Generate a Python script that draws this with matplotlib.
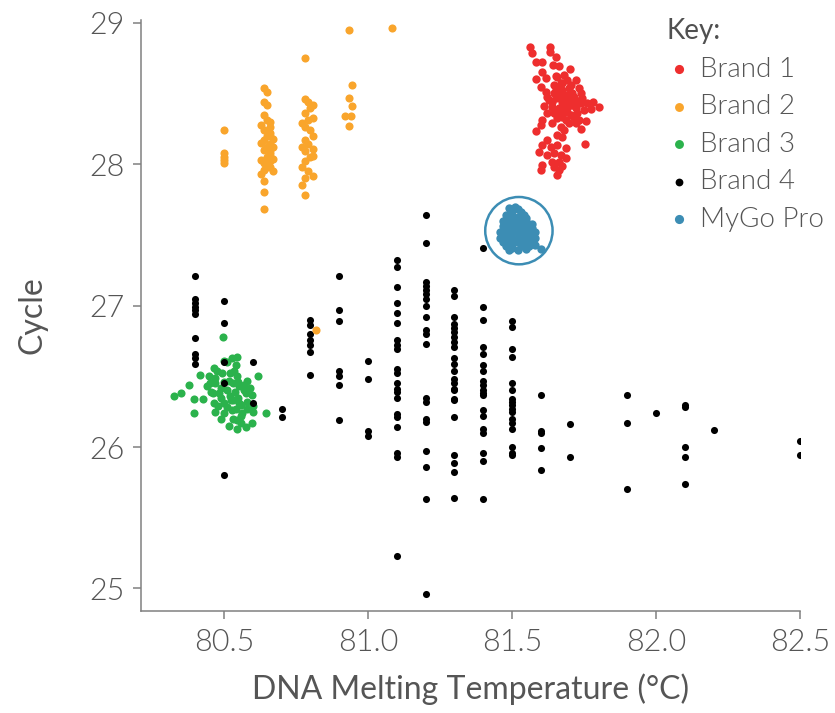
import matplotlib
matplotlib.use("Agg")
import matplotlib.pyplot as plt

plt.rcParams['font.family'] = ['Lato', 'DejaVu Sans']
plt.rcParams['font.weight'] = 300

# ---- data ----
# Brand 1 (red)
b1_x = [81.562, 81.570, 81.632, 81.632, 81.582, 81.605, 81.652, 81.642, 81.663, 81.700,
        81.603, 81.582, 81.617, 81.657, 81.681, 81.600, 81.617, 81.646, 81.675, 81.692,
        81.704, 81.733, 81.738, 81.663, 81.686, 81.715, 81.652, 81.675, 81.704, 81.738,
        81.762, 81.782, 81.802, 81.773, 81.750, 81.721, 81.692, 81.663, 81.640, 81.611,
        81.623, 81.646, 81.675, 81.704, 81.733, 81.756, 81.721, 81.738, 81.605, 81.600,
        81.640, 81.669, 81.681, 81.582, 81.657, 81.675, 81.623, 81.605, 81.634, 81.657,
        81.686, 81.754, 81.594, 81.623, 81.646, 81.669, 81.640, 81.663, 81.686, 81.605,
        81.600, 81.646, 81.663, 81.657, 81.675, 81.652, 81.629, 81.710, 81.698, 81.727,
        81.652, 81.675, 81.698, 81.663, 81.686, 81.710, 81.669, 81.692, 81.715, 81.686,
        81.657, 81.646, 81.681, 81.727, 81.698, 81.744, 81.640, 81.623, 81.669, 81.721]
b1_y = [28.828, 28.785, 28.828, 28.790, 28.721, 28.726, 28.757, 28.703, 28.691, 28.672,
        28.655, 28.601, 28.608, 28.620, 28.632, 28.549, 28.514, 28.561, 28.573, 28.596,
        28.561, 28.537, 28.502, 28.514, 28.490, 28.478, 28.467, 28.443, 28.443, 28.431,
        28.431, 28.443, 28.401, 28.389, 28.384, 28.396, 28.396, 28.396, 28.408, 28.412,
        28.360, 28.360, 28.337, 28.349, 28.313, 28.309, 28.290, 28.247, 28.313, 28.278,
        28.290, 28.266, 28.242, 28.235, 28.207, 28.195, 28.172, 28.136, 28.124, 28.136,
        28.113, 28.141, 28.089, 28.065, 28.077, 28.065, 28.018, 28.018, 28.042, 27.995,
        27.959, 27.983, 27.959, 27.924, 27.988, 28.625, 28.455, 28.502, 28.290, 28.360,
        28.537, 28.526, 28.537, 28.478, 28.455, 28.419, 28.372, 28.372, 28.337, 28.313,
        28.325, 28.502, 28.412, 28.450, 28.478, 28.467, 28.443, 28.478, 28.573, 28.596]

# Brand 2 (orange)
b2_x = [80.50, 80.50, 80.50, 80.50, 80.50,
        80.64, 80.65, 80.64, 80.65, 80.64, 80.65, 80.63, 80.64, 80.66, 80.65, 80.64, 80.63,
        80.65, 80.64, 80.66, 80.65, 80.63, 80.64, 80.65, 80.64, 80.63, 80.64, 80.64, 80.64,
        80.66, 80.66, 80.66, 80.66, 80.66, 80.66, 80.66, 80.66, 80.67, 80.67, 80.67, 80.67,
        80.78, 80.78, 80.79, 80.80, 80.78, 80.79, 80.77, 80.78, 80.80, 80.78, 80.79, 80.77,
        80.78, 80.80, 80.78, 80.77, 80.79, 80.78, 80.77, 80.78,
        80.81, 80.81, 80.81, 80.81, 80.81, 80.81,
        80.934, 80.945, 80.934, 80.945, 80.92, 80.94, 80.934,
        81.084, 80.82]
b2_y = [28.24, 28.08, 28.05, 28.03, 28.01,
        28.54, 28.51, 28.44, 28.42, 28.35, 28.31, 28.28, 28.24, 28.22, 28.20, 28.17, 28.15,
        28.12, 28.10, 28.08, 28.05, 28.03, 28.01, 27.98, 27.96, 27.93, 27.88, 27.80, 27.68,
        28.30, 28.26, 28.20, 28.14, 28.10, 28.06, 28.02, 27.98, 28.18, 28.12, 28.04, 27.95,
        28.75, 28.46, 28.44, 28.40, 28.36, 28.31, 28.29, 28.26, 28.24, 28.17, 28.14, 28.12,
        28.09, 28.05, 28.02, 27.98, 27.95, 27.90, 27.85, 27.78,
        28.42, 28.33, 28.20, 28.11, 28.06, 27.92,
        28.95, 28.56, 28.47, 28.41, 28.34, 28.34, 28.27,
        28.96, 26.83]

# Brand 3 (green)
b3_x = [80.326, 80.350, 80.378, 80.397, 80.397, 80.417, 80.427, 80.448, 80.454, 80.465,
        80.465, 80.469, 80.477, 80.483, 80.497, 80.500, 80.494, 80.500, 80.500, 80.517,
        80.517, 80.523, 80.529, 80.529, 80.535, 80.538, 80.546, 80.546, 80.546, 80.546,
        80.552, 80.552, 80.564, 80.569, 80.575, 80.575, 80.581, 80.596, 80.596, 80.617,
        80.647, 80.47, 80.49, 80.51, 80.53, 80.55, 80.56, 80.51, 80.49, 80.53,
        80.56, 80.58, 80.47, 80.45, 80.52, 80.54, 80.58, 80.60, 80.49, 80.54,
        80.57, 80.50, 80.46, 80.44, 80.52, 80.55, 80.48, 80.59, 80.53, 80.56,
        80.51, 80.60]
b3_y = [26.36, 26.38, 26.44, 26.34, 26.24, 26.51, 26.34, 26.50, 26.39, 26.56,
        26.31, 26.25, 26.54, 26.38, 26.78, 26.61, 26.52, 26.31, 26.24, 26.15,
        26.47, 26.33, 26.63, 26.26, 26.54, 26.39, 26.64, 26.50, 26.19, 26.13,
        26.43, 26.31, 26.24, 26.44, 26.38, 26.14, 26.27, 26.37, 26.17, 26.50,
        26.24, 26.45, 26.42, 26.40, 26.45, 26.35, 26.30, 26.28, 26.35, 26.20,
        26.22, 26.32, 26.49, 26.45, 26.52, 26.58, 26.47, 26.29, 26.20, 26.27,
        26.40, 26.46, 26.38, 26.43, 26.36, 26.46, 26.29, 26.42, 26.33, 26.17,
        26.60, 26.25]

# Brand 4 (black), one list of cycles per melting temperature column
b4_cols = {
    80.4: [27.21, 27.05, 27.02, 26.99, 26.97, 26.94, 26.77, 26.66, 26.63, 26.59],
    80.5: [27.03, 26.88, 26.60, 26.45, 25.80],
    80.6: [26.60, 26.31],
    80.7: [26.27, 26.21],
    80.8: [26.90, 26.86, 26.80, 26.76, 26.72, 26.67, 26.51],
    80.9: [27.21, 26.97, 26.89, 26.54, 26.50, 26.44, 26.19],
    81.0: [26.61, 26.48, 26.11, 26.08],
    81.1: [27.32, 27.27, 27.13, 27.02, 26.95, 26.88, 26.76, 26.72, 26.69, 26.55, 26.52,
           26.45, 26.41, 26.39, 26.35, 26.23, 26.21, 26.14, 25.96, 25.93, 25.23],
    81.2: [27.64, 27.44, 27.17, 27.14, 27.11, 27.08, 27.05, 27.00, 26.92, 26.83, 26.80,
           26.73, 26.35, 26.32, 26.20, 26.18, 25.97, 25.86, 25.63, 24.96],
    81.3: [27.11, 27.07, 26.92, 26.87, 26.84, 26.81, 26.78, 26.74, 26.71, 26.63, 26.59,
           26.54, 26.48, 26.45, 26.41, 26.40, 26.34, 26.33, 26.21, 25.94, 25.89, 25.82,
           25.64],
    81.4: [27.41, 26.99, 26.90, 26.71, 26.66, 26.58, 26.54, 26.47, 26.44, 26.40, 26.38,
           26.37, 26.26, 26.22, 26.13, 26.10, 25.96, 25.90, 25.63],
    81.5: [26.89, 26.85, 26.69, 26.64, 26.45, 26.40, 26.34, 26.32, 26.30, 26.27, 26.25,
           26.20, 26.17, 26.13, 26.00, 25.96, 25.94],
    81.6: [26.37, 26.11, 26.10, 25.99, 25.84],
    81.7: [26.16, 25.93],
    81.9: [26.37, 26.17, 25.70],
    82.0: [26.24],
    82.1: [26.30, 26.28, 26.00, 25.93, 25.74],
    82.2: [26.12],
    82.5: [26.04, 25.94],
}
b4_x = []
b4_y = []
for t, cyc in b4_cols.items():
    for c in cyc:
        b4_x.append(t)
        b4_y.append(c)

# MyGo Pro (blue)
mg_x = [81.49, 81.51, 81.50, 81.52, 81.53,
        81.48, 81.50, 81.52, 81.54, 81.55,
        81.47, 81.49, 81.51, 81.53, 81.55, 81.57,
        81.47, 81.49, 81.51, 81.53, 81.55, 81.57, 81.48,
        81.46, 81.50, 81.52, 81.54, 81.56, 81.58,
        81.46, 81.48, 81.50, 81.52, 81.54, 81.56, 81.58,
        81.47, 81.49, 81.51, 81.53, 81.55, 81.57,
        81.48, 81.50, 81.53, 81.56, 81.58,
        81.49, 81.52, 81.55, 81.60]
mg_y = [27.69, 27.70, 27.67, 27.68, 27.66,
        27.64, 27.64, 27.63, 27.64, 27.62,
        27.60, 27.61, 27.60, 27.59, 27.60, 27.58,
        27.56, 27.57, 27.56, 27.55, 27.56, 27.55, 27.53,
        27.52, 27.52, 27.51, 27.52, 27.51, 27.52,
        27.48, 27.49, 27.48, 27.47, 27.48, 27.47, 27.48,
        27.45, 27.44, 27.45, 27.44, 27.45, 27.44,
        27.42, 27.41, 27.42, 27.42, 27.43,
        27.39, 27.39, 27.40, 27.40]
mg_center = (81.524, 27.53)

x_ticks = [80.5, 81.0, 81.5, 82.0, 82.5]
y_ticks = [25, 26, 27, 28, 29]

c_red = '#EE2E2E'
c_orange = '#F9A52C'
c_green = '#2BB24C'
c_black = '#000000'
c_blue = '#3C8DB4'
txt = '#555555'
axc = '#808080'

fig = plt.figure(figsize=(8.35, 7.13), dpi=100)
ax = fig.add_axes([0.169, 0.143, 0.789, 0.829])

h3 = ax.scatter(b3_x, b3_y, s=34, c=c_green, linewidths=0, zorder=2)
h4 = ax.scatter(b4_x, b4_y, s=26, c=c_black, linewidths=0, zorder=3)
h2 = ax.scatter(b2_x, b2_y, s=34, c=c_orange, linewidths=0, zorder=4)
h1 = ax.scatter(b1_x, b1_y, s=36, c=c_red, linewidths=0, zorder=5)
h5 = ax.scatter(mg_x, mg_y, s=36, c=c_blue, linewidths=0, zorder=6)
ax.scatter([mg_center[0]], [mg_center[1]], s=2350, facecolors='none',
           edgecolors=c_blue, linewidths=1.8, zorder=7)

ax.set_xlim(80.212, 82.5)
ax.set_ylim(24.84, 29.02)
ax.set_xticks(x_ticks)
ax.set_xticklabels(['%.1f' % v for v in x_ticks])
ax.set_yticks(y_ticks)
ax.set_yticklabels([str(v) for v in y_ticks])

for s in ['top', 'right']:
    ax.spines[s].set_visible(False)
for s in ['left', 'bottom']:
    ax.spines[s].set_color(axc)
    ax.spines[s].set_linewidth(1.1)
ax.tick_params(colors=axc, length=6, width=1.1, labelsize=22, labelcolor=txt, pad=6)

ax.set_xlabel('DNA Melting Temperature (°C)', fontsize=23, color=txt, labelpad=12)
ax.set_ylabel('Cycle', fontsize=23, color=txt, labelpad=30)

leg = fig.legend([h1, h2, h3, h4, h5],
                 ['Brand 1', 'Brand 2', 'Brand 3', 'Brand 4', 'MyGo Pro'],
                 loc='upper left', bbox_to_anchor=(0.785, 0.99), frameon=False,
                 title='Key:', alignment='left', fontsize=20, title_fontsize=20,
                 handletextpad=0.3, labelspacing=0.45, markerscale=1.1,
                 handlelength=0.9, borderaxespad=0.2, borderpad=0.2)
for t in leg.get_texts():
    t.set_color(txt)
leg.get_title().set_color('#505050')
leg.get_title().set_fontweight('normal')

fig.savefig('out.png', dpi=100)
